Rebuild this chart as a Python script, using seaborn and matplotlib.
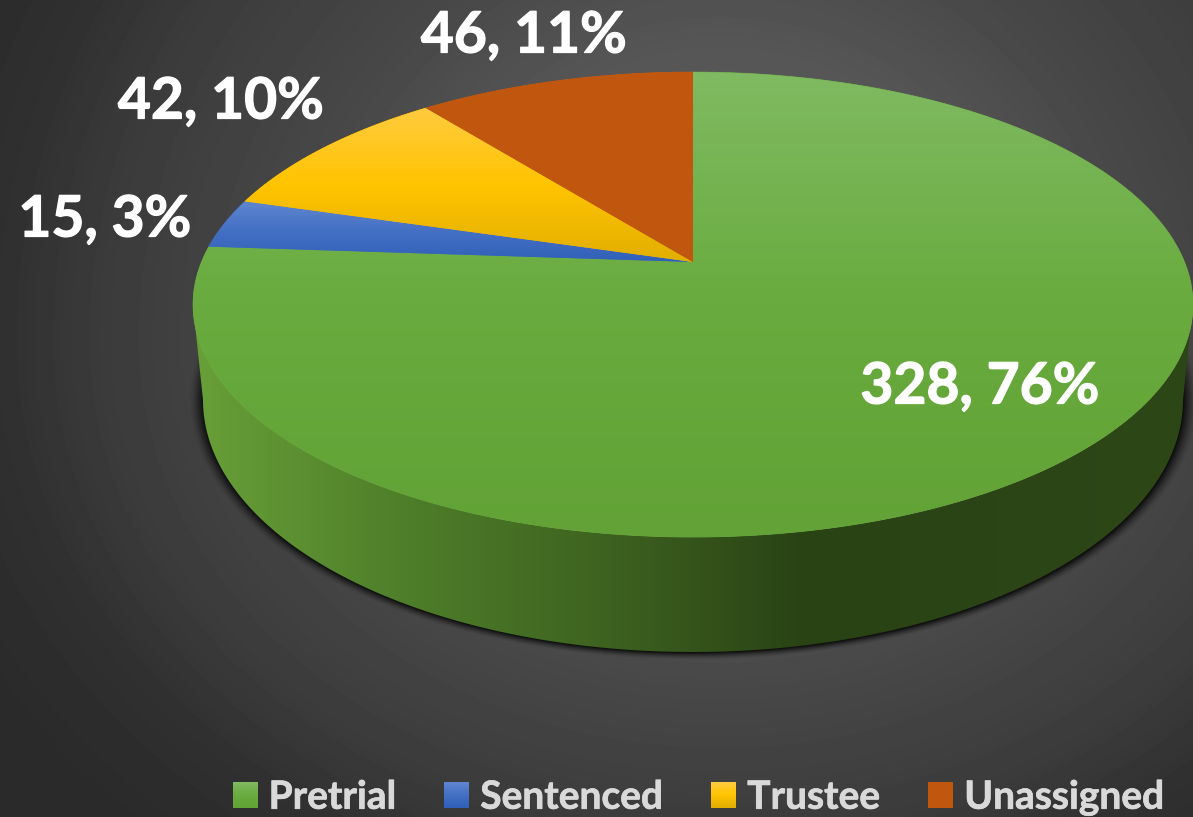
import numpy as np
import matplotlib
matplotlib.use('Agg')
import matplotlib.pyplot as plt
import matplotlib.patheffects as pe
import seaborn as sns
from matplotlib.colors import LinearSegmentedColormap
from matplotlib.legend_handler import HandlerBase
from matplotlib.patches import Patch, Polygon, Rectangle

categories = ['Pretrial', 'Sentenced', 'Trustee', 'Unassigned']
values = [328, 15, 42, 46]

# colours of each slice, top to bottom
base_colors = ['#70AD47', '#4472C4', '#FFC000', '#C55A11']
shades = [['#80BA62', '#69AB3E', '#62A236'],
          ['#5F86CF', '#4470C4', '#3060B8'],
          ['#FFCB3F', '#FFC400', '#E2AE00'],
          ['#C1570F', '#C1570F', '#C1570F']]
side_x = [193, 400, 600, 800, 1193]
side_colors = ['#68A038', '#4F7F2A', '#3E6320', '#2A4315', '#2D4717']

label_pos = [(980, 387), (105, 220), (221, 102), (524, 36)]

W, H = 1193, 817
sns.set_theme(style='white')
plt.rcParams['font.family'] = ['Lato', 'DejaVu Sans']
palette = sns.color_palette(base_colors)

fig = plt.figure(figsize=(W / 100, H / 100), dpi=100)
ax = fig.add_axes([0, 0, 1, 1])
ax.set_axis_off()


def project(theta):
    # theta clockwise from the top, the near side of the pie looks bigger
    u, v = np.sin(theta), np.cos(theta)
    d = 1 + 0.183 * v
    return 693 + 491.5 * u / d, 262 - 224.7 * v / d


def vgrad(cols, y0, y1, clip, z):
    cmap = LinearSegmentedColormap.from_list('s', cols)
    im = ax.imshow(np.linspace(0, 1, 256)[:, None], cmap=cmap, extent=[0, W, y1, y0],
                   aspect='auto', zorder=z, interpolation='bilinear')
    im.set_clip_path(clip)


# background
yy, xx = np.mgrid[0:H, 0:W]
dy = np.where(yy > 340, (yy - 340) * 1.25, yy - 340)
dist = np.hypot(xx - 720, dy)
bg = np.interp(dist, [0, 290, 430, 550, 620, 720, 850], [0x60, 0x56, 0x48, 0x40, 0x3B, 0x30, 0x2A])
ax.imshow(bg, cmap='gray', vmin=0, vmax=255, extent=[0, W, H, 0], aspect='auto', zorder=0)

# shadow under the pie
r = np.hypot((xx - 693) / 490, (yy - 400) / 252)
alpha = np.clip((1.03 - r) / 0.03, 0, 1) ** 1.5 * 0.8
alpha[yy < 330] = 0
shadow = np.zeros((H, W, 4))
shadow[..., 3] = alpha
ax.imshow(shadow, extent=[0, W, H, 0], aspect='auto', zorder=1)

# side wall
t = np.linspace(0, np.pi, 300)
low_x = 693 + 490 * np.cos(t)
low_y = 400 + 252 * np.sin(t)
side_path = Polygon(np.r_[[[1193, 305]], np.c_[low_x, low_y], [[193, 305]]],
                    closed=True, transform=ax.transData, fc='none', ec='none')
ax.add_patch(side_path)
px = np.arange(W)
side_rgb = np.array([matplotlib.colors.to_rgb(c) for c in side_colors])
strip = np.stack([np.interp(px, side_x, side_rgb[:, i]) for i in range(3)], axis=1)
im = ax.imshow(strip[None, :, :], extent=[0, W, H, 0], aspect='auto', zorder=2)
im.set_clip_path(side_path)

# top face
fractions = np.array(values) / sum(values)
edges = np.r_[0, np.cumsum(fractions)] * 2 * np.pi
for i, color in enumerate(palette):
    th = np.linspace(edges[i], edges[i + 1], 300)
    x, y = project(th)
    verts = np.r_[[[693, 262]], np.c_[x, y], [[693, 262]]]
    wedge = Polygon(verts, closed=True, transform=ax.transData, fc=color, ec=color, lw=0.5, zorder=3)
    ax.add_patch(wedge)
    grad = Polygon(verts, closed=True, transform=ax.transData, fc='none', ec='none')
    ax.add_patch(grad)
    vgrad(shades[i], y.min() if i else 72, max(y.max(), 262), grad, 4)

# data labels
for v, f, pos in zip(values, fractions, label_pos):
    lab = ax.text(pos[0], pos[1], f'{v}, {f * 100:.0f}%', color='white', fontsize=41, fontweight='bold',
                  ha='center', va='center', zorder=6)
    lab.set_path_effects([pe.withStroke(linewidth=0.9, foreground='white')])


class GradHandler(HandlerBase):
    def __init__(self, cols):
        super().__init__()
        self.cols = cols

    def create_artists(self, legend, orig, xd, yd, width, height, fontsize, trans):
        cmap = LinearSegmentedColormap.from_list('s', self.cols)
        n = 24
        out = []
        for k in range(n):
            out.append(Rectangle((-xd, -yd + height * (n - k - 1) / n), width, height / n + 0.3,
                                 fc=cmap(k / (n - 1)), ec='none', transform=trans))
        return out


handles = [Patch(color=c, label=n) for c, n in zip(palette, categories)]
leg = ax.legend(handles=handles, handler_map={h: GradHandler(s) for h, s in zip(handles, shades)},
                ncol=4, loc='lower right', bbox_to_anchor=(1168 / W, -0.002), frameon=False,
                fontsize=28, handlelength=0.64, handleheight=0.62, handletextpad=0.28,
                columnspacing=1.24, borderpad=0.1, borderaxespad=0)
for txt in leg.get_texts():
    txt.set_color('#D9D9D9')
    txt.set_fontweight('bold')
    txt.set_path_effects([pe.withStroke(linewidth=0.5, foreground='#D9D9D9')])
leg.set_zorder(7)

ax.set_xlim(0, W)
ax.set_ylim(H, 0)
fig.savefig('out.png', dpi=100)
